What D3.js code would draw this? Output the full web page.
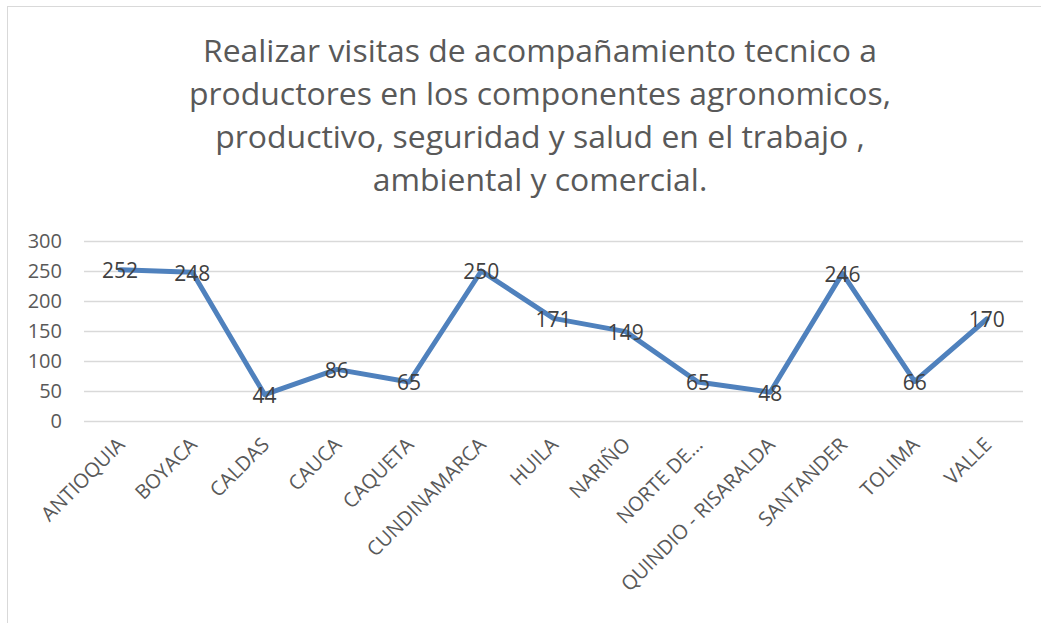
<!DOCTYPE html>
<html>
<head>
<meta charset="utf-8">
<script src="https://cdn.jsdelivr.net/npm/d3@7"></script>
<style>
  body { margin: 0; background: #fff; }
  text { font-family: "Open Sans", sans-serif; }
</style>
</head>
<body>
<svg id="chart" width="1041" height="623"></svg>
<script>
var categories = ["ANTIOQUIA","BOYACA","CALDAS","CAUCA","CAQUETA","CUNDINAMARCA","HUILA","NARIÑO","NORTE DE...","QUINDIO - RISARALDA","SANTANDER","TOLIMA","VALLE"];
var values = [252,248,44,86,65,250,171,149,65,48,246,66,170];
var yTicks = [0,50,100,150,200,250,300];
var titleLines = [
  "Realizar visitas de acompañamiento tecnico a",
  "productores en los componentes agronomicos,",
  "productivo, seguridad y salud en el trabajo ,",
  "ambiental y comercial."
];

var svg = d3.select("#chart");
var margin = {top: 241, left: 84, right: 18, bottom: 202};
var width = 1041 - margin.left - margin.right,
    height = 623 - margin.top - margin.bottom;

// chart border
svg.append("rect").attr("x", 7.5).attr("y", 6.5).attr("width", 1040).attr("height", 640)
  .attr("fill", "none").attr("stroke", "#d9d9d9").attr("stroke-width", 1);

svg.append("g").selectAll("text").data(titleLines).enter().append("text")
  .attr("x", 540).attr("y", function(d, i) { return 62 + i * 43; })
  .attr("text-anchor", "middle").style("font-size", "31px").style("fill", "#595959")
  .attr("transform", "translate(540,0) scale(1.03,1) translate(-540,0)")
  .text(function(d) { return d; });

var g = svg.append("g").attr("transform", "translate(" + margin.left + "," + margin.top + ")");

var x = d3.scaleBand().domain(categories).range([0, width]);
var y = d3.scaleLinear().domain([0, 300]).range([height, 0]);

var yAxis = g.append("g").call(d3.axisLeft(y).tickValues(yTicks).tickSize(-width).tickPadding(22));
yAxis.select(".domain").remove();
yAxis.selectAll("line").attr("stroke", "#d9d9d9").attr("stroke-width", 1.5);
yAxis.selectAll("text").style("font-size", "20px").style("fill", "#595959").style("font-family", "Open Sans");

var xAxis = g.append("g").attr("transform", "translate(0," + height + ")")
  .call(d3.axisBottom(x).tickSize(0).tickPadding(0));
xAxis.select(".domain").remove();
xAxis.selectAll("text")
  .style("font-size", "20px").style("fill", "#595959").style("font-family", "Open Sans")
  .attr("text-anchor", "end").attr("dy", "0.35em")
  .attr("transform", "translate(1,20) rotate(-45)");

var line = d3.line()
  .x(function(d, i) { return x(categories[i]) + x.bandwidth() / 2; })
  .y(function(d) { return y(d); });

g.append("path").datum(values).attr("d", line)
  .attr("fill", "none").attr("stroke", "#4f81bd").attr("stroke-width", 5)
  .attr("stroke-linejoin", "round").attr("stroke-linecap", "round");

g.append("g").selectAll("text").data(values).enter().append("text")
  .attr("x", function(d, i) { return x(categories[i]) + x.bandwidth() / 2; })
  .attr("y", function(d) { return y(d); })
  .attr("dy", "0.4em").attr("text-anchor", "middle")
  .style("font-size", "21px").style("fill", "#404040")
  .text(function(d) { return d; });
</script>
</body>
</html>
